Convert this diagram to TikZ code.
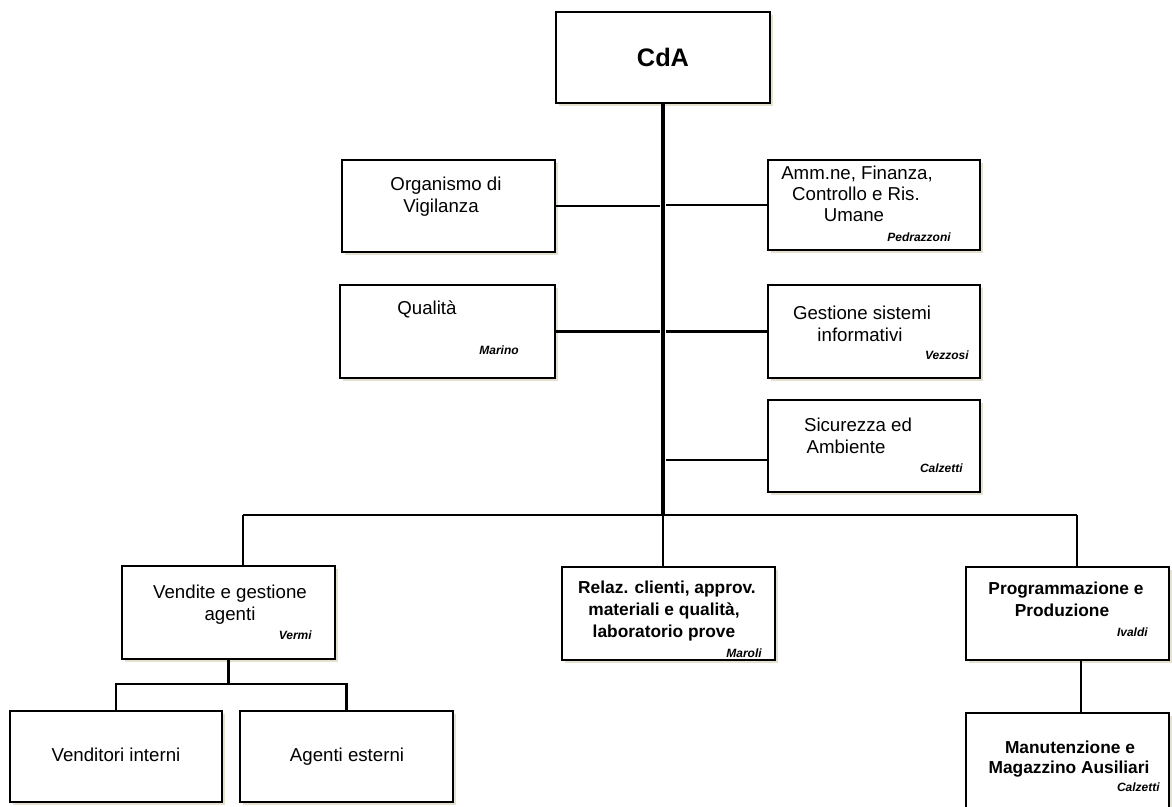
\documentclass[tikz,border=0pt]{standalone}
\usepackage{fontspec}
\setmainfont{Liberation Sans}
\usetikzlibrary{fit,shadows}
\definecolor{shd}{HTML}{E4E1CF}
\begin{document}
\begin{tikzpicture}[x=0.75pt,y=-0.75pt,
  box/.style={draw, line width=1.1pt, fill=white, inner sep=0pt,
    general shadow={fill=shd, shadow xshift=2.5pt, shadow yshift=-2.5pt}},
  hbox/.style={box, line width=1.8pt},
  conn/.style={line width=1.6pt},
  spine/.style={line width=3.2pt},
  txt/.style={inner sep=0pt, text height=10pt, text depth=0pt, font=\fontsize{14}{16}\selectfont},
  btxt/.style={inner sep=0pt, text height=9.3pt, text depth=0pt, font=\fontsize{13}{15}\selectfont\bfseries},
  nm/.style={inner sep=0pt, anchor=east, text height=6.5pt, text depth=0pt, font=\fontsize{9}{10}\selectfont\bfseries\itshape}]
\fill[white] (0,0) rectangle (1172,807);
\useasboundingbox (0,0) rectangle (1172,807);

% boxes
\node[box, fit={(556,12)(770,103)}] (cda) {};
\node[box, fit={(342,160)(555,252)}] (org) {};
\node[box, fit={(768,160)(980,250)}] (amm) {};
\node[box, fit={(340,285)(555,378)}] (qual) {};
\node[box, fit={(768,285)(980,378)}] (gest) {};
\node[box, fit={(768,400)(980,492)}] (sic) {};
\node[box, fit={(122,566)(335,659)}] (vend) {};
\node[hbox, fit={(562,567)(775,660)}] (relaz) {};
\node[hbox, fit={(966,567)(1169,660)}] (prog) {};
\node[box, fit={(10,711)(222,802)}] (vent) {};
\node[box, fit={(240,711)(453,802)}] (agen) {};
\node[hbox, fit={(966,713)(1169,815)}] (manut) {};

% coordinates
\coordinate (junc) at (663,515);
\coordinate (busL) at (243,515);
\coordinate (busR) at (1077,515);
\coordinate (sb) at (229,684);
\coordinate (pm) at (1081,660);
\coordinate (sicy) at (768,460);

% connectors
\draw[spine] (cda.south) -- (junc);
\draw[conn] (busL) -- (busR);
\draw[conn] (busL) -- (busL |- vend.north);
\draw[conn] (busR) -- (busR |- prog.north);
\draw[conn] (junc) -- (junc |- relaz.north);
\draw[conn] (org.east) -- ([xshift=-2.2]org.east -| junc);
\draw[conn] (qual.east) -- ([xshift=-2.2]qual.east -| junc);
\draw[conn] (amm.west) -- ([xshift=2.2]amm.west -| junc);
\draw[conn] (gest.west) -- ([xshift=2.2]gest.west -| junc);
\draw[conn] (sic.west |- sicy) -- ([xshift=2.2]sicy -| junc);
\draw[conn] (vend.south) -- (vend.south |- sb);
\draw[conn] (vent.north) |- (sb) -| (agen.north);
\draw[conn] (prog.south -| pm) -- (manut.north -| pm);

% texts
\node[inner sep=0pt, text height=13.6pt, text depth=0pt, font=\fontsize{19}{21}\selectfont\bfseries] (tcda) at (663,57) {CdA};

\node[txt] (torg1) at (446,184) {Organismo di};
\node[txt] (torg2) at (441,206) {Vigilanza};

\node[txt] (tamm1) at (857,173) {Amm.ne, Finanza,};
\node[txt] (tamm2) at (856,194) {Controllo e Ris.};
\node[txt] (tamm3) at (854,215) {Umane};
\node[nm] (tamm4) at (951,237) {Pedrazzoni};

\node[txt] (tqual1) at (427,308) {Qualità};
\node[nm] (tqual2) at (519,350) {Marino};

\node[txt] (tgest1) at (862,313) {Gestione sistemi};
\node[txt] (tgest2) at (860,335) {informativi};
\node[nm] (tgest3) at (969,355) {Vezzosi};

\node[txt] (tsic1) at (858,425) {Sicurezza ed};
\node[txt] (tsic2) at (846,447) {Ambiente};
\node[nm] (tsic3) at (963,468) {Calzetti};

\node[txt] (tvend1) at (230,592) {Vendite e gestione};
\node[txt] (tvend2) at (230,614) {agenti};
\node[nm] (tvend3) at (312,635) {Vermi};

\node[btxt] (trel1) at (667,587) {Relaz. clienti, approv.};
\node[btxt] (trel2) at (664,609) {materiali e qualità,};
\node[btxt] (trel3) at (664,631) {laboratorio prove};
\node[nm] (trel4) at (762,653) {Maroli};

\node[btxt] (tprog1) at (1066,588) {Programmazione e};
\node[btxt] (tprog2) at (1062,610) {Produzione};
\node[nm] (tprog3) at (1148,632) {Ivaldi};

\node[txt] (tvent) at (116,755) {Venditori interni};
\node[txt] (tagen) at (347,755) {Agenti esterni};

\node[btxt] (tman1) at (1070,747) {Manutenzione e};
\node[btxt] (tman2) at (1069,767) {Magazzino Ausiliari};
\node[nm] (tman3) at (1160,787) {Calzetti};
\end{tikzpicture}
\end{document}
